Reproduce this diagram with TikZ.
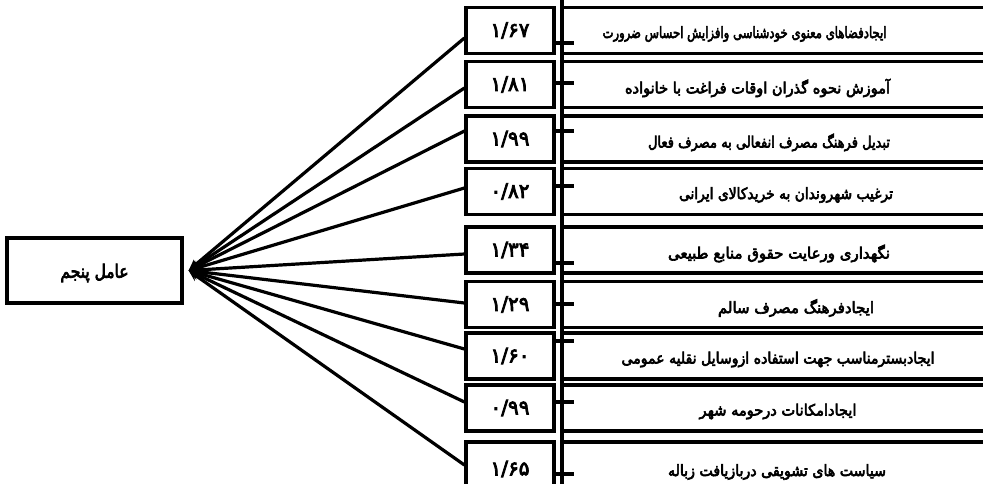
\documentclass[tikz,border=0pt]{standalone}
\usepackage{graphicx}
\usepackage{fontspec}
\newfontfamily\fa[Script=Arabic, FakeBold=4]{DejaVu Sans}
\newfontfamily\fanum[Script=Arabic, FakeBold=4]{DejaVu Sans}
\TeXXeTstate=1
\usetikzlibrary{arrows.meta}
\newcommand\rtlfit[2]{\resizebox{#1pt}{\height}{#2}}
\tikzset{
  boxline/.style={draw=black, line width=3.2pt},
  valbox/.style={boxline, rectangle, minimum width=88pt, minimum height=46pt, inner sep=0pt,
                 font=\fanum\fontsize{20}{22}\selectfont},
  txtbox/.style={boxline, rectangle, minimum width=433pt, minimum height=46pt, inner sep=0pt},
  lbl/.style={inner sep=0pt, font=\fa\fontsize{15.5}{18}\selectfont},
  conn/.style={line width=3.2pt, -{Stealth[length=11pt,width=10pt]}},
  tick/.style={line width=3.2pt}
}
\begin{document}
\begin{tikzpicture}[x=1pt,y=-1pt]
\useasboundingbox (0,0) rectangle (983,483);
\clip (0,0) rectangle (983,483);
% left box
\node[boxline, rectangle, minimum width=175pt, minimum height=65pt, inner sep=0pt] (f) at (94.5,270.5) {};
\node[lbl, font=\fa\fontsize{18.5}{20}\selectfont] (ft) at (94.5,273) {\rtlfit{68}{\beginR عامل پنجم\endR}};
\coordinate (hub) at ([xshift=5pt]f.east);
% value boxes
\node[valbox] (v1) at (510,30.5) {۱/۶۷};
\node[valbox] (v2) at (510,84.5) {۱/۸۱};
\node[valbox] (v3) at (510,139) {۱/۹۹};
\node[valbox] (v4) at (510,191.5) {۰/۸۲};
\node[valbox] (v5) at (510,250) {۱/۳۴};
\node[valbox] (v6) at (510,304.5) {۱/۲۹};
\node[valbox] (v7) at (510,356) {۱/۶۰};
\node[valbox] (v8) at (510,408) {۰/۹۹};
\node[valbox, minimum height=54pt] (v9) at (510,469) {۱/۶۵};
% text boxes
\node[txtbox] (t1) at (778.5,30.5) {};
\node[txtbox] (t2) at (778.5,84.5) {};
\node[txtbox] (t3) at (778.5,139) {};
\node[txtbox] (t4) at (778.5,191.5) {};
\node[txtbox] (t5) at (778.5,250) {};
\node[txtbox] (t6) at (778.5,304.5) {};
\node[txtbox] (t7) at (778.5,356) {};
\node[txtbox] (t8) at (778.5,408) {};
\node[txtbox, minimum height=54pt] (t9) at (778.5,469) {};
% labels
\node[lbl] (l1) at (744.5,34) {\rtlfit{284}{\beginR ایجادفضاهای معنوی خودشناسی وافزایش احساس ضرورت\endR}};
\node[lbl] (l2) at (757.5,88) {\rtlfit{265}{\beginR آموزش نحوه گذران اوقات فراغت با خانواده\endR}};
\node[lbl] (l3) at (769,142.5) {\rtlfit{242}{\beginR تبدیل فرهنگ مصرف انفعالی به مصرف فعال\endR}};
\node[lbl] (l4) at (786,195) {\rtlfit{214}{\beginR ترغیب شهروندان به خریدکالای ایرانی\endR}};
\node[lbl] (l5) at (779,253.5) {\rtlfit{222}{\beginR نگهداری ورعایت حقوق منابع طبیعی\endR}};
\node[lbl] (l6) at (796,308) {\rtlfit{156}{\beginR ایجادفرهنگ مصرف سالم\endR}};
\node[lbl] (l7) at (778,359.5) {\rtlfit{313}{\beginR ایجادبسترمناسب جهت استفاده ازوسایل نقلیه عمومی\endR}};
\node[lbl] (l8) at (778,411.5) {\rtlfit{157}{\beginR ایجادامکانات درحومه شهر\endR}};
\node[lbl] (l9) at (777,472) {\rtlfit{218}{\beginR سیاست های تشویقی دربازیافت زباله\endR}};
% vertical spine
\coordinate (sTop) at (562,0);
\coordinate (sBot) at (562,483);
\draw[tick] (sTop) -- (sBot);
% ticks
\draw[tick] (v1.east |- 0,43) -- ++(18,0);
\draw[tick] (v2.east |- 0,83) -- ++(18,0);
\draw[tick] (v3.east |- 0,131) -- ++(18,0);
\draw[tick] (v4.east |- 0,186) -- ++(18,0);
\draw[tick] (v5.east |- 0,263) -- ++(18,0);
\draw[tick] (v6.east |- 0,304) -- ++(18,0);
\draw[tick] (v7.east |- 0,341) -- ++(18,0);
\draw[tick] (v8.east |- 0,402) -- ++(18,0);
\draw[tick] (v9.east |- 0,474) -- ++(18,0);
% connectors
\draw[conn] (v1.west |- 0,38) -- (hub);
\draw[conn] (v2.west |- 0,88) -- (hub);
\draw[conn] (v3.west |- 0,131) -- (hub);
\draw[conn] (v4.west |- 0,188) -- (hub);
\draw[conn] (v5.west |- 0,254) -- (hub);
\draw[conn] (v6.west |- 0,303) -- (hub);
\draw[conn] (v7.west |- 0,349) -- (hub);
\draw[conn] (v8.west |- 0,402) -- (hub);
\draw[conn] (v9.west |- 0,465) -- (hub);
\end{tikzpicture}
\end{document}
